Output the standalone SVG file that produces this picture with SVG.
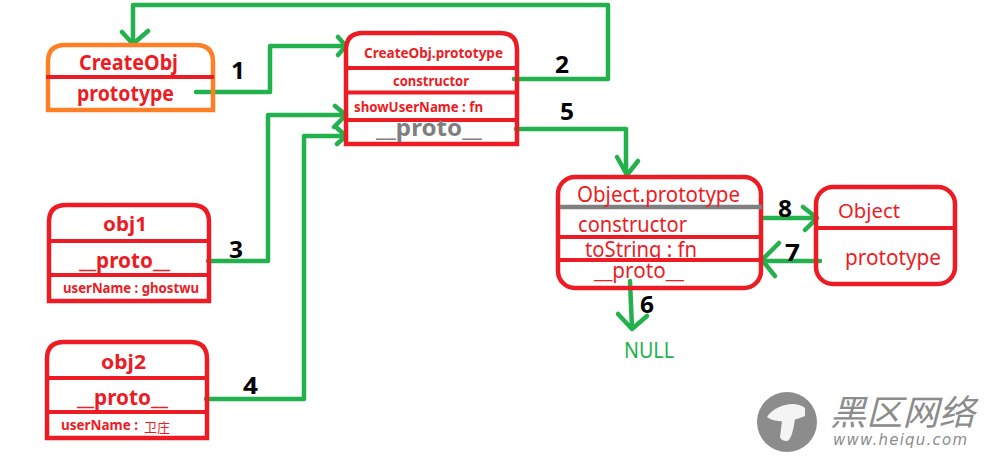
<svg xmlns="http://www.w3.org/2000/svg" width="989" height="457" viewBox="0 0 989 457">
<defs><style>
text{font-family:"Noto Sans","Noto Sans CJK SC",sans-serif;fill:#ed1c24}
.b{font-weight:700}
.box{fill:none;stroke:#ed1c24;stroke-width:4.500}
.org{stroke:#ff7f27}
.div{stroke:#ed1c24;stroke-width:4}
.c{fill:none;stroke:#22b14c;stroke-width:4.500;stroke-linecap:round;stroke-linejoin:round}
.n{font-family:"Noto Sans",sans-serif;font-weight:700;font-size:24px;fill:#000}
.wm{fill:#8c8c8c;font-style:italic}
</style></defs>
<rect width="989" height="457" fill="#fff"/>
<g id="connectors" class="c">
<path d="M196 92H270V46H345M338 37L346 46L338 55"/>
<path d="M514 79H608V5H133V43M122 32L133 44L148 31"/>
<path d="M208 261H268V115H345M335 106L346 115L334 127"/>
<path d="M206 399H304V136H345M337 128L346 136L337 144"/>
<path d="M516 129H626V175M617 157L627 175L638 161"/>
<path d="M630 281L632 328M618 314L632 329L647 316"/>
<path d="M820 261H762M779 243L762 260L775 276"/>
<path d="M762 218H816M803 207L817 218L805 230"/>
</g>
<g id="createobj">
<path class="box org" d="M48 110V62Q48 45 65 45H196Q213 45 213 62V110Z"/>
<path class="div" d="M46 77H214"/>
<text class="b" x="79" y="70" font-size="22" textLength="99" lengthAdjust="spacingAndGlyphs">CreateObj</text>
<text class="b" x="77" y="101" font-size="22" textLength="97" lengthAdjust="spacingAndGlyphs">prototype</text>
</g>
<g id="createobj-prototype">
<path class="box" d="M346 144V50Q346 33 363 33H500Q517 33 517 50V144Z"/>
<path class="div" d="M348 68H516M346 92.500H516M346 120H516"/>
<text class="b" x="364" y="58" font-size="15" textLength="139" lengthAdjust="spacingAndGlyphs">CreateObj.prototype</text>
<text class="b" x="393" y="86" font-size="14" textLength="76" lengthAdjust="spacingAndGlyphs">constructor</text>
<text class="b" x="354" y="112" font-size="14" textLength="129" lengthAdjust="spacingAndGlyphs">showUserName : fn</text>
<text class="b" x="376" y="136" font-size="24" textLength="106" lengthAdjust="spacingAndGlyphs" style="fill:#7f7f7f">__proto__</text>
</g>
<g id="object-prototype">
<rect class="box" x="558" y="177" width="203" height="111" rx="17"/>
<path d="M560 207H762" stroke="#7f7f7f" stroke-width="4.500"/>
<path class="div" d="M560 237H763M560 260H761"/>
<text x="577" y="202" font-size="22" textLength="163" lengthAdjust="spacingAndGlyphs">Object.prototype</text>
<text x="578" y="232" font-size="22" textLength="109" lengthAdjust="spacingAndGlyphs">constructor</text>
<text x="585" y="257" font-size="22" textLength="112" lengthAdjust="spacingAndGlyphs">toString : fn</text>
<text x="594" y="278" font-size="22" textLength="90" lengthAdjust="spacingAndGlyphs">__proto__</text>
</g>
<g id="object">
<rect class="box" x="816" y="187" width="139" height="97" rx="17"/>
<path class="div" d="M818 228H953"/>
<text x="838" y="218" font-size="20" textLength="62" lengthAdjust="spacingAndGlyphs">Object</text>
<text x="845" y="265" font-size="22" textLength="96" lengthAdjust="spacingAndGlyphs">prototype</text>
</g>
<g id="obj1">
<path class="box" d="M49 301V222Q49 205 66 205H192Q209 205 209 222V301Z"/>
<path class="div" d="M50 241H208M50 275H209"/>
<text class="b" x="103" y="231" font-size="20" textLength="44" lengthAdjust="spacingAndGlyphs">obj1</text>
<text class="b" x="79" y="268" font-size="22" textLength="91" lengthAdjust="spacingAndGlyphs">__proto__</text>
<text class="b" x="63" y="293" font-size="14" textLength="136" lengthAdjust="spacingAndGlyphs">userName : ghostwu</text>
</g>
<g id="obj2">
<path class="box" d="M47 438V359Q47 342 64 342H190Q207 342 207 359V438Z"/>
<path class="div" d="M48 378H206M48 412H207"/>
<text class="b" x="101" y="369" font-size="20" textLength="45" lengthAdjust="spacingAndGlyphs">obj2</text>
<text class="b" x="77" y="405" font-size="22" textLength="91" lengthAdjust="spacingAndGlyphs">__proto__</text>
<text class="b" x="61" y="430" font-size="14" textLength="77" lengthAdjust="spacingAndGlyphs">userName :</text>
<text x="144" y="432" font-size="13" textLength="26" style="font-family:'Noto Sans CJK SC',sans-serif">卫庄</text>
</g>
<g id="null"><text x="624" y="358" font-size="22" textLength="50" lengthAdjust="spacingAndGlyphs" style="fill:#22b14c">NULL</text></g>
<g id="numbers">
<text class="n" x="231" y="79" textLength="14" lengthAdjust="spacingAndGlyphs">1</text>
<text class="n" x="555" y="73" textLength="14" lengthAdjust="spacingAndGlyphs">2</text>
<text class="n" x="229" y="258" textLength="14" lengthAdjust="spacingAndGlyphs">3</text>
<text class="n" x="243" y="394" textLength="15" lengthAdjust="spacingAndGlyphs">4</text>
<text class="n" x="560" y="120" textLength="14" lengthAdjust="spacingAndGlyphs">5</text>
<text class="n" x="640" y="313" textLength="14" lengthAdjust="spacingAndGlyphs">6</text>
<text class="n" x="785" y="261" textLength="15" lengthAdjust="spacingAndGlyphs">7</text>
<text class="n" x="778" y="217" textLength="14" lengthAdjust="spacingAndGlyphs">8</text>
</g>
<g id="watermark">
<circle cx="787" cy="422" r="30" fill="#8c8c8c"/>
<path d="M767 417C775 405 795 400 805 408L805 416C790 423 775 423 767 417Z" fill="#f4f4f4"/>
<path d="M782 421L780 437Q781 441 787 441Q792 440 795 419Z" fill="#f4f4f4"/>
<text class="wm" x="830" y="425" font-size="35" textLength="145" lengthAdjust="spacingAndGlyphs" style="font-family:'Noto Sans CJK SC',sans-serif;fill:#8c8c8c">黑区网络</text>
<text class="wm" x="833" y="445" font-size="15" textLength="134" style="font-family:'DejaVu Sans',sans-serif;fill:#8c8c8c">www.heiqu.com</text>
</g>
</svg>
